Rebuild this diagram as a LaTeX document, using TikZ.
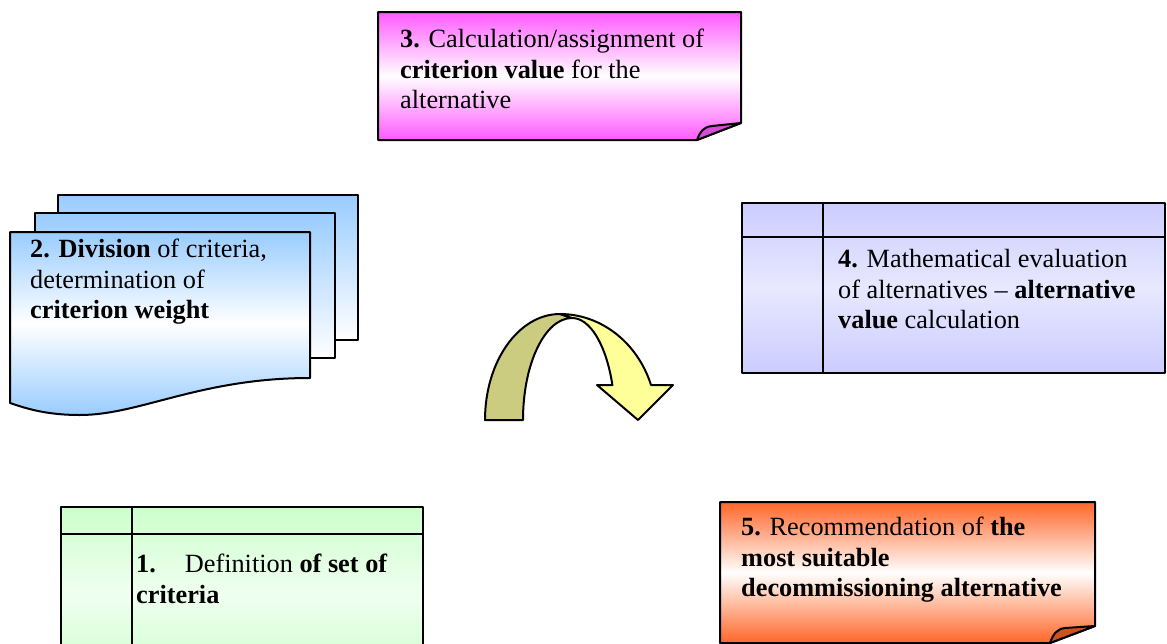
\documentclass[tikz,border=0pt]{standalone}
\usepackage{fontspec}
\setmainfont{Liberation Serif}
\usetikzlibrary{calc}
\definecolor{notepink}{RGB}{255,90,255}
\colorlet{notepinkfold}{notepink!85!black}
\definecolor{docblue}{RGB}{153,204,255}
\definecolor{storelilac}{RGB}{204,204,255}
\colorlet{storelilacmid}{storelilac!45!white}
\definecolor{storegreen}{RGB}{204,255,204}
\colorlet{storegreenmid}{storegreen!30!white}
\definecolor{noteorange}{RGB}{255,102,40}
\colorlet{noteorangefold}{noteorange!80!black}
\definecolor{arrowyellow}{RGB}{255,255,153}
\definecolor{arrowolive}{RGB}{204,204,128}
\newcommand{\stepfont}{\fontsize{26.3}{30.5}\selectfont}

\begin{document}
\begin{tikzpicture}[x=1pt, y=-1pt,
        outline/.style={draw=black, line width=2pt, line join=round},
        steptext/.style={anchor=north west, inner sep=0pt, align=left, font=\stepfont}]
        \useasboundingbox (0,0) rectangle (1167,643);
        % note 3 (top)
        \draw[outline, top color=notepink, bottom color=notepink, middle color=white]
            (378,12) -- (741,12) -- (741,123) -- (697,140) -- (378,140) -- cycle;
        \draw[outline, fill=notepinkfold]
            (697,140) .. controls (700,132) and (703,127) .. (712,126) -- (741,123) -- cycle;
        \node[steptext] (calc) at (400,26)
            {\strut\textbf{3.} Calculation/assignment of\\
             \textbf{criterion value} for the\\
             alternative};
        % multidocument 2 (left)
        \foreach \dx/\dy in {48/37, 25/19}
        {
            \draw[outline, top color=docblue, bottom color=white]
                (10+\dx,232-\dy) rectangle ++(300,145);
        }
        \draw[outline, top color=docblue, bottom color=docblue, middle color=white]
            (10,232) -- (310,232) -- (310,378)
            .. controls (200,378) and (140,415) .. (80,415)
            .. controls (45,415) and (25,408) .. (10,403) -- cycle;
        \node[steptext] (weight) at (30,236)
            {\strut\textbf{2. Division} of criteria,\\
             determination of\\
             \textbf{criterion weight}};
        % internal storage 4 (right)
        \draw[outline, top color=storelilac, bottom color=storelilac, middle color=storelilacmid]
            (742,203) rectangle (1165,373);
        \draw[outline] (742,237) -- (1165,237) (823,203) -- (823,373);
        \node[steptext] (evaluation) at (838,246)
            {\strut\textbf{4.} Mathematical evaluation\\
             of alternatives – \textbf{alternative}\\
             \textbf{value} calculation};
        % curved arrow (centre)
        \draw[outline, fill=arrowolive]
            (485,420) arc[start angle=180, end angle=270, x radius=75, y radius=106]
            -- (572,318) arc[start angle=270, end angle=180, x radius=49, y radius=102]
            -- cycle;
        \draw[outline, fill=arrowyellow]
            (572,318) arc[start angle=270, end angle=340, x radius=43, y radius=102]
            -- (597,385) -- (638,420) -- (673,385) -- (651,385)
            arc[start angle=340.7, end angle=270, x radius=96.4, y radius=106]
            -- cycle;
        % internal storage 1 (bottom left)
        \draw[outline, top color=storegreen, bottom color=storegreen, middle color=storegreenmid]
            (61,507) rectangle (423,680);
        \draw[outline] (61,534) -- (423,534) (132,507) -- (132,680);
        \node[steptext] (criteria) at (136,551)
            {\strut\textbf{1.}\hspace{1.1em}Definition \textbf{of set of}\\
             \textbf{criteria}};
        % note 5 (bottom right)
        \draw[outline, top color=noteorange, bottom color=noteorange, middle color=white]
            (720,502) -- (1095,502) -- (1095,626) -- (1050,643) -- (720,643) -- cycle;
        \draw[outline, fill=noteorangefold]
            (1050,643) .. controls (1053,635) and (1056,629) .. (1065,628) -- (1095,626) -- cycle;
        \node[steptext] (recommend) at (741,514)
            {\strut\textbf{5.} Recommendation of \textbf{the}\\
             \textbf{most suitable}\\
             \textbf{decommissioning alternative}};
\end{tikzpicture}
\end{document}
